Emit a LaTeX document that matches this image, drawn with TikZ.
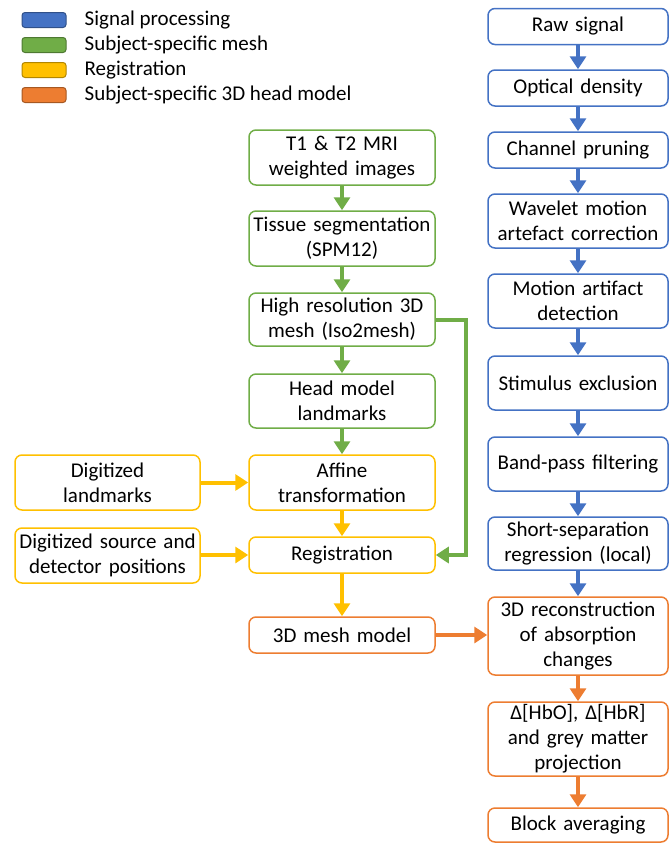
\documentclass[tikz,border=0pt]{standalone}
\usepackage{fontspec}
\setmainfont{Carlito}
\usepackage{tikz}
\usetikzlibrary{arrows.meta}
\usetikzlibrary{positioning}
\definecolor{sigblue}{HTML}{4472C4}
\definecolor{meshgreen}{HTML}{70AD47}
\definecolor{regyellow}{HTML}{FFC000}
\definecolor{headorange}{HTML}{ED7D31}

\begin{document}
\begin{tikzpicture}[
    x=1pt, y=-1pt,
    font=\fontsize{21}{25}\selectfont,
    box/.style = {
      draw, rounded corners=7pt, line width=1.5pt, fill=white,
      align=center, inner sep=0pt, minimum height=#1,
    },
    box/.default = 36pt,
    rbox/.style = {box=#1, minimum width=180pt, text width=176pt},
    mbox/.style = {box=#1, minimum width=186pt, text width=182pt},
    swatch/.style = {draw=#1!70!black, fill=#1, rounded corners=3pt,
      line width=1pt, minimum width=44pt, minimum height=15pt, inner sep=0pt},
    flow/.style = {#1, line width=4pt,
      -{Triangle[width=16pt, length=13pt]}},
  ]
  \useasboundingbox (0,0) rectangle (670,844);

  % legend
  \node[swatch=sigblue]    (legsig)  at (44,20) {};
  \node[swatch=meshgreen]  (legmesh) at (44,45) {};
  \node[swatch=regyellow]  (legreg)  at (44,70) {};
  \node[swatch=headorange] (leghead) at (44,95) {};
  \node[right=18pt of legsig,  inner sep=0pt] {Signal processing};
  \node[right=18pt of legmesh, inner sep=0pt] {Subject-specific mesh};
  \node[right=18pt of legreg,  inner sep=0pt] {Registration};
  \node[right=18pt of leghead, inner sep=0pt] {Subject-specific 3D head model};

  % signal processing column
  \begin{scope}[every node/.append style={draw=sigblue}]
    \node[rbox]    (raw)     at (578,26.5) {Raw signal};
    \node[rbox]    (od)      at (578,88)   {Optical density};
    \node[rbox]    (prune)   at (578,150)  {Channel pruning};
    \node[rbox=54pt] (wavelet) at (578,221) {Wavelet motion\\artefact correction};
    \node[rbox=54pt] (motion)  at (578,301) {Motion artifact\\detection};
    \node[rbox=54pt] (stim)    at (578,383) {Stimulus exclusion};
    \node[rbox=54pt] (bpf)     at (578,464) {Band-pass filtering};
    \node[rbox=53pt] (ssr)     at (578,543.5) {Short-separation\\regression (local)};
  \end{scope}

  % head model column
  \begin{scope}[every node/.append style={draw=headorange}]
    \node[rbox=78pt] (recon) at (578,636) {3D reconstruction\\of absorption\\changes};
    \node[rbox=74pt] (hb)    at (578,739) {Δ[HbO], Δ[HbR]\\and grey matter\\projection};
    \node[rbox=34pt] (block) at (578,825) {Block averaging};
    \node[mbox]      (meshmodel) at (342,635) {3D mesh model};
  \end{scope}

  % mesh column
  \begin{scope}[every node/.append style={draw=meshgreen}]
    \node[mbox=55pt] (t1t2)   at (342,157.5) {T1 \& T2 MRI\\weighted images};
    \node[mbox=55pt] (seg)    at (342,238.5) {Tissue segmentation\\(SPM12)};
    \node[mbox=53pt] (mesh)   at (342,319.5) {High resolution 3D\\mesh (Iso2mesh)};
    \node[mbox=54pt] (headlm) at (342,401)   {Head model\\landmarks};
  \end{scope}

  % registration
  \begin{scope}[every node/.append style={draw=regyellow}]
    \node[mbox=55pt] (affine) at (342,482.5) {Affine\\transformation};
    \node[mbox]      (reg)    at (342,555)   {Registration};
    \node[box=55pt, minimum width=185pt, text width=181pt]
      (diglm)  at (107.5,482.5) {Digitized\\landmarks};
    \node[box=55pt, minimum width=185pt, text width=181pt]
      (digsrc) at (107.5,555.5) {Digitized source and\\detector positions};
  \end{scope}

  \begin{scope}[flow=sigblue]
    \draw (raw) -- (od);
    \draw (od) -- (prune);
    \draw (prune) -- (wavelet);
    \draw (wavelet) -- (motion);
    \draw (motion) -- (stim);
    \draw (stim) -- (bpf);
    \draw (bpf) -- (ssr);
    \draw (ssr) -- (recon);
  \end{scope}

  \begin{scope}[flow=meshgreen]
    \draw (t1t2) -- (seg);
    \draw (seg) -- (mesh);
    \draw (mesh) -- (headlm);
    \draw (headlm) -- (affine);
    \draw (mesh.east) -- ++(30,0) |- (reg.east);
  \end{scope}

  \begin{scope}[flow=regyellow]
    \draw (diglm) -- (affine);
    \draw (digsrc.east |- reg) -- (reg);
    \draw (affine) -- (reg);
    \draw (reg) -- (meshmodel);
  \end{scope}

  \begin{scope}[flow=headorange]
    \draw (meshmodel) -- (recon.west |- meshmodel);
    \draw (recon) -- (hb);
    \draw (hb) -- (block);
  \end{scope}
\end{tikzpicture}
\end{document}
